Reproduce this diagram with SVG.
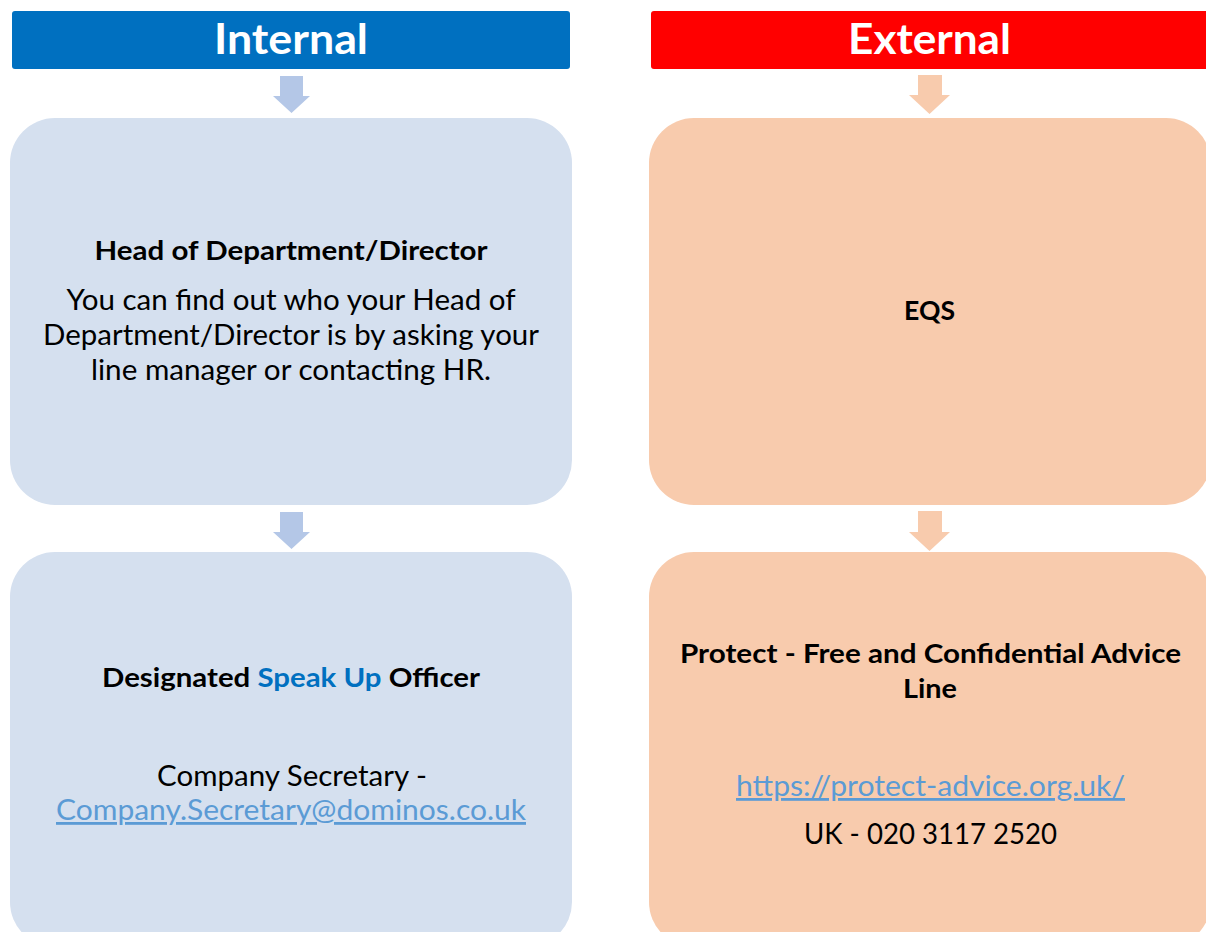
<svg xmlns="http://www.w3.org/2000/svg" width="1206" height="932" viewBox="0 0 1206 932">
<style>
text{font-family:"Lato","Liberation Sans",sans-serif;text-anchor:middle;fill:#000}
.hdr{font-size:42px;font-weight:bold;fill:#fff}
.ttl{font-size:27px;font-weight:bold}
.body{font-size:28px}
.link{font-size:28px;fill:#5B9BD5;text-decoration:underline}
.blue{fill:#D5E0EF}
.peach{fill:#F8CBAD}
.arrB{fill:#B4C7E7}
.arrP{fill:#F8CBAD}
</style>
<rect width="1206" height="932" fill="#fff"/>
<g id="connectors">
<polygon class="arrB" points="280,76 303,76 303,96 310,96 291.5,113 273,96 280,96"/>
<polygon class="arrB" points="280,512 303,512 303,532 310,532 291.5,549 273,532 280,532"/>
<polygon class="arrP" points="918,75 942,75 942,95 950,95 929.5,114 909,95 918,95"/>
<polygon class="arrP" points="918,511 942,511 942,532 950,532 929.5,551 909,532 918,532"/>
</g>
<g id="internal-header">
<rect x="12" y="11" width="558" height="58" rx="3" fill="#0070C0"/>
<text class="hdr" x="291" y="54" textLength="154" lengthAdjust="spacingAndGlyphs">Internal</text>
</g>
<g id="external-header">
<rect x="651" y="11" width="560" height="58" rx="3" fill="#FF0000"/>
<text class="hdr" x="929.5" y="54" textLength="163" lengthAdjust="spacingAndGlyphs">External</text>
</g>
<g id="head-of-department">
<rect class="blue" x="10" y="118" width="562" height="387" rx="45"/>
<text class="ttl" x="291" y="260" textLength="393" lengthAdjust="spacingAndGlyphs">Head of Department/Director</text>
<text class="body" x="291" y="310" textLength="449" lengthAdjust="spacingAndGlyphs">You can find out who your Head of</text>
<text class="body" x="291" y="345" textLength="496" lengthAdjust="spacingAndGlyphs">Department/Director is by asking your</text>
<text class="body" x="291" y="380" textLength="400" lengthAdjust="spacingAndGlyphs">line manager or contacting HR.</text>
</g>
<g id="speak-up-officer">
<rect class="blue" x="10" y="552" width="562" height="395" rx="45"/>
<text class="ttl" x="291" y="687" textLength="378" lengthAdjust="spacingAndGlyphs">Designated <tspan fill="#0070C0">Speak Up</tspan> Officer</text>
<text class="body" x="292" y="786" textLength="270" lengthAdjust="spacingAndGlyphs">Company Secretary -</text>
<text class="link" x="291" y="820" textLength="470" lengthAdjust="spacingAndGlyphs">Company.Secretary@dominos.co.uk</text>
</g>
<g id="eqs">
<rect class="peach" x="649" y="118" width="562" height="387" rx="45"/>
<text class="ttl" x="929.5" y="320" textLength="51" lengthAdjust="spacingAndGlyphs">EQS</text>
</g>
<g id="protect">
<rect class="peach" x="649" y="552" width="562" height="395" rx="45"/>
<text class="ttl" x="930.5" y="663" textLength="501" lengthAdjust="spacingAndGlyphs">Protect - Free and Confidential Advice</text>
<text class="ttl" x="930" y="698" textLength="54" lengthAdjust="spacingAndGlyphs">Line</text>
<text class="link" x="930.5" y="796" textLength="389" lengthAdjust="spacingAndGlyphs">https://protect-advice.org.uk/</text>
<text class="body" x="930.5" y="844" textLength="253" lengthAdjust="spacingAndGlyphs">UK - 020 3117 2520</text>
</g>
</svg>
